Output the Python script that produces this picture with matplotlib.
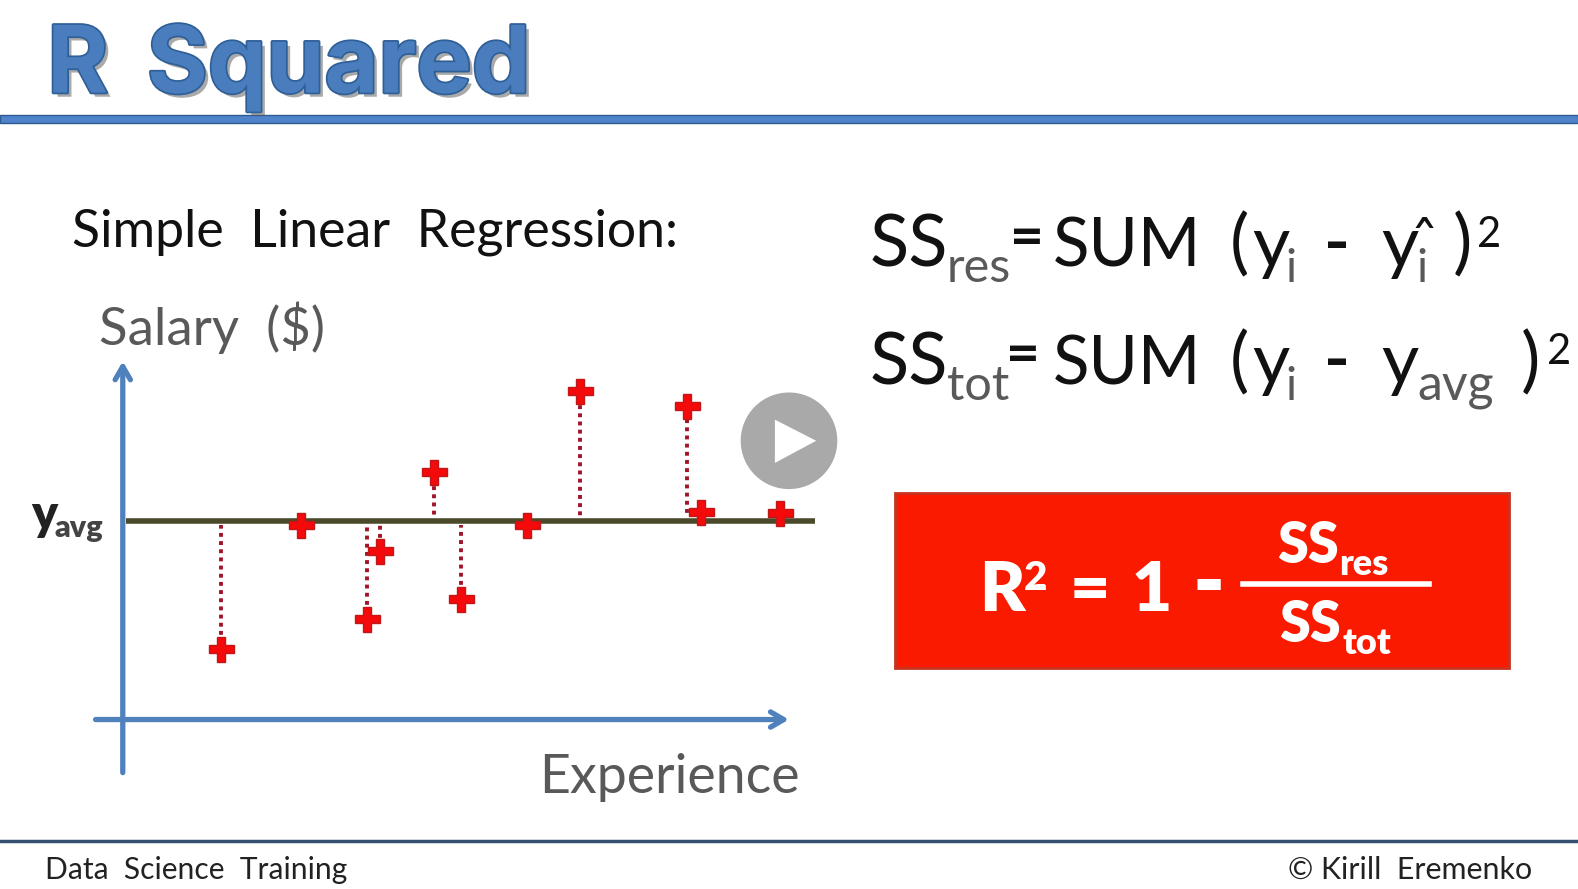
import matplotlib
matplotlib.use("Agg")
import matplotlib.pyplot as plt
import matplotlib.patheffects as pe
from matplotlib.patches import Circle, Polygon, Rectangle

plt.rcParams['font.family'] = ['Lato', 'DejaVu Sans']

# experience / salary in arbitrary units
experience = [1.48, 2.68, 3.68, 3.88, 4.68, 5.09, 6.09, 6.89, 8.50, 8.70, 9.89]
salary = [1.75, 4.83, 2.50, 4.18, 6.15, 3.00, 4.83, 8.15, 7.80, 5.15, 5.13]
y_avg = 4.93
x_end = 10.42
residual_idx = [0, 2, 3, 4, 5, 7, 8]

BLUE = "#4f81bd"
GREY = "#595959"
DARK = "#111111"
W, H = 1568.0, 883.4

fig = plt.figure(figsize=(15.78, 8.89), dpi=100, facecolor="white")

# slide background in picture pixels
bg = fig.add_axes([0, 0, 1, 1])
bg.set_xlim(0, W)
bg.set_ylim(H, 0)
bg.axis("off")


def txt(x, y, s, size, color=DARK, weight="normal", **kw):
    return bg.text(x, y, s, fontsize=size, color=color, fontweight=weight,
                   va="baseline", ha=kw.pop("ha", "left"), **kw)


# title
title_fx = [pe.withSimplePatchShadow(offset=(3, -3), shadow_rgbFace="#555555", alpha=0.5),
            pe.withStroke(linewidth=2.5, foreground="#2f5f97")]
txt(47, 92, "R", 67, "#4a7dbd", "bold", family=["Inter", "DejaVu Sans"], path_effects=title_fx)
txt(146, 92, "Squared", 67, "#4a7dbd", "bold", family=["Inter", "DejaVu Sans"], path_effects=title_fx)
bg.add_patch(Rectangle((0, 114), W, 8, fc="#4f84cc", ec="#2f5a8f", lw=1))

# footer
bg.plot([0, W], [836, 836], color="#34506e", lw=2.5)
txt(45, 873, "Data  Science  Training", 21.6, "#222222")
txt(1522, 873, "© Kirill  Eremenko", 21.9, "#222222", ha="right")

# left heading and labels
txt(72, 245, "Simple  Linear  Regression:", 37.4, DARK)
txt(98, 343, "Salary  ($)", 38, GREY)
txt(536, 788, "Experience", 38.6, GREY)
txt(31, 527, "y", 35, "#222222", "heavy")
txt(54, 534, "avg", 22, "#444444", "heavy")

# chart, 66 px per experience unit and 40 px per salary unit
left, right, top, bottom = 90, 810, 355, 768
ax = fig.add_axes([left / W, 1 - bottom / H, (right - left) / W, (bottom - top) / H])
ax.set_xlim((left - 122) / 66, (right - 122) / 66)
ax.set_ylim((715 - bottom) / 40, (715 - top) / 40)
ax.axis("off")
ax.patch.set_alpha(0)

arrow = dict(arrowstyle="->,head_width=0.55,head_length=0.95", color=BLUE, lw=3.8, shrinkA=0, shrinkB=0)
ax.annotate("", xy=(0, 8.9), xytext=(0, -1.32), arrowprops=arrow)
ax.annotate("", xy=(10.03, 0), xytext=(-0.41, 0), arrowprops=arrow)
ax.plot([0.05, x_end], [y_avg, y_avg], color="#4a4a2a", lw=4, solid_capstyle="butt")

for i in residual_idx:
    gap = 0.14 if salary[i] < y_avg else -0.14
    ax.plot([experience[i], experience[i]], [salary[i] + gap, y_avg - gap * 0.7],
            color="#a0142a", lw=2.8, ls=(0, (1, 1.1)))
ax.plot(experience, salary, ls="none", marker="P", ms=18, mfc="#f40a0a", mec="#c01818", mew=1)

# play button
bg2 = fig.add_axes([0, 0, 1, 1])
bg2.set_xlim(0, W)
bg2.set_ylim(H, 0)
bg2.axis("off")
bg2.patch.set_alpha(0)
bg2.add_patch(Circle((784, 438), 48, fc="#a9a9a9", ec="none"))
bg2.add_patch(Polygon([(770, 417), (770, 460), (811, 438)], closed=True, fc="white", ec="none"))

# sum of squares formulas
for y, sub, eq_x, sub_x in [(265, "res", 1004, 941), (382, "tot", 1000, 941)]:
    txt(864, y, "SS", 52, DARK)
    txt(sub_x, y + 15, sub, 35, GREY)
    txt(eq_x, y - 11, "=", 42, DARK, "bold")
    txt(1046, y, "SUM", 48.5, DARK)
    txt(1222, y, "(", 52, DARK)
    txt(1244, y, "y", 52, DARK)
    txt(1277, y + 15, "i", 33, GREY)
    txt(1316, y - 2, "-", 50, DARK, "bold")
    txt(1372, y, "y", 52, DARK)
txt(1407, 265 + 15, "i", 33, GREY)
txt(1401, 262, "ˆ", 42, DARK, family=['DejaVu Sans'])
txt(1443, 265, ")", 52, DARK)
txt(1468, 245, "2", 30, DARK)
txt(1408, 397, "avg", 36, GREY)
txt(1511, 382, ")", 52, DARK)
txt(1537, 362, "2", 30, DARK)

# red box
bg2.add_patch(Rectangle((889, 490), 610, 174, fc="#f91a00", ec="#c8331f", lw=2))
fx2 = dict(color="white", fontweight="heavy", va="baseline", zorder=5)
bg2.text(973, 607, "R", fontsize=50, **fx2)
bg2.text(1017, 586, "2", fontsize=29, **fx2)
bg2.text(1063, 607, "=", fontsize=50, **fx2)
bg2.text(1124, 607, "1", fontsize=50, **fx2)
bg2.text(1185, 607, "-", fontsize=62, **fx2)
bg2.plot([1235, 1420], [580, 580], color="white", lw=4, zorder=5)
bg2.text(1269, 559, "SS", fontsize=40, **fx2)
bg2.text(1331, 571, "res", fontsize=26, **fx2)
bg2.text(1271, 638, "SS", fontsize=40, **fx2)
bg2.text(1334, 650, "tot", fontsize=26, **fx2)

fig.savefig("out.png", dpi=100)
